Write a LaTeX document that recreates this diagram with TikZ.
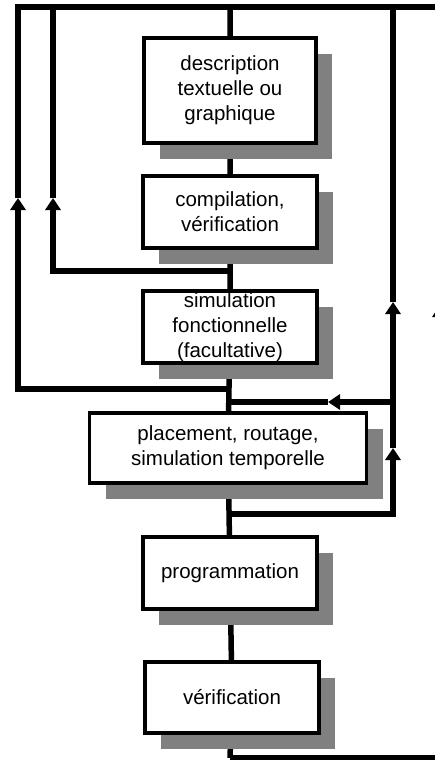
\documentclass[tikz,border=0pt]{standalone}
\usepackage{fontspec}
\setmainfont{Liberation Sans}
\usetikzlibrary{
  arrows.meta,
  positioning,
  backgrounds,  % Predefined layer named "background"
  shadows,      % Style "drop shadow"
}
\def\mylw{5.5pt}
\def\myshift{16pt}
\tikzset{
  >={Triangle[width=15pt,length=12pt]},
  my step/.style={
    draw,
    line width=3.5pt,
    fill=white,
    minimum width=174pt,
    minimum height=72pt,
    inner sep=0pt,
    align=center,
    font=\fontsize{20.5}{25}\selectfont,
    drop shadow={shadow xshift=\myshift,shadow yshift=-\myshift,
      fill=black!50,opacity=1},
    rectangle
  },
  my flow/.style={
    line width=\mylw,
    line join=miter
  }
}

\begin{document}
\begin{tikzpicture}[x=1pt,y=-1pt]
\useasboundingbox (0,0) rectangle (435,760);
\node[my step,minimum width=172pt,minimum height=105pt] (descr) at (230,90.5)
  {description\\textuelle ou\\graphique};
\node[my step] (compil) at (230,212) {compilation,\\vérification};
\node[my step] (simul)  at (230,327) {simulation\\fonctionnelle\\(facultative)};
\node[my step,minimum width=277pt,minimum height=70pt] (place) at (228,448)
  {placement, routage,\\simulation temporelle};
\node[my step] (prog)   at (230,573) {programmation};
\node[my step,minimum height=71pt] (verif) at (232,697.5) {vérification};
% junctions on the main line
\coordinate (top)    at (230,7);
\coordinate (back1)  at (230,271);
\coordinate (back2)  at (230,389);
\coordinate (retour) at (230,402);
\coordinate (fwd)    at (230,514);
\coordinate (bottom) at (230,758);
% arrow tips
\coordinate (tip1) at (18,198);
\coordinate (tip2) at (53,198);
\coordinate (tip3) at (393,448);
\coordinate (tip4) at (393,302);
\coordinate (tip5) at (328,402);
\coordinate (tip6) at (440,305);
\begin{scope}[on background layer={my flow}]
\draw (top) -- (descr) -- (compil) -- (simul) -- (place) -- (prog) -- (verif)
  -- (bottom);
\draw (440,7) -- (18,7) -- (tip1);
\draw[->] (back2) -| (tip1);
\draw (53,7) -- (tip2);
\draw[->] (back1) -| (tip2);
\draw[->] (fwd) -| (tip3);
\draw[->] (tip3) -- (tip4);
\draw (tip4) -- (393,7);
\draw[->] (393,402) -- (tip5);
\draw (tip5) -- (retour);
\draw[->] (bottom) -| (tip6);
\draw (tip6) -- (440,7);
\end{scope}
\end{tikzpicture}
\end{document}
